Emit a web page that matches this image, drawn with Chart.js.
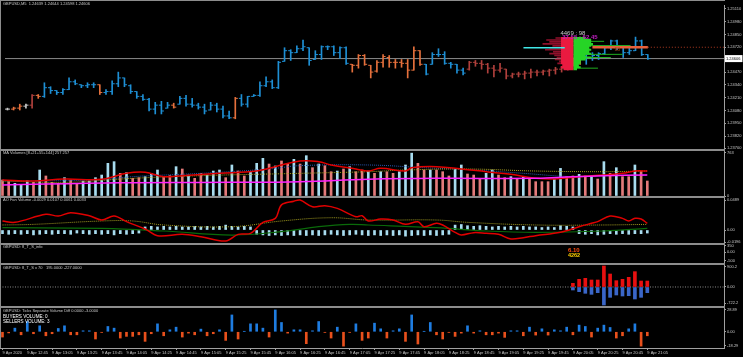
<!DOCTYPE html>
<html><head><meta charset="utf-8">
<script src="https://cdn.jsdelivr.net/npm/chart.js@4.4.1/dist/chart.umd.min.js"></script>
<style>
html,body{margin:0;padding:0;background:#000;overflow:hidden;}
#wrap{position:relative;width:743px;height:357px;background:#000;}
canvas{position:absolute;left:0;}
.sep{position:absolute;left:0;width:725px;background:#8c8c8c;}
</style></head><body><div id="wrap">
<canvas id="c1" width="743" height="153" style="top:0px"></canvas>
<canvas id="c2" width="743" height="50" style="top:149px"></canvas>
<canvas id="c3" width="743" height="49" style="top:196px"></canvas>
<canvas id="c4" width="743" height="22" style="top:243px"></canvas>
<canvas id="c5" width="743" height="45" style="top:263px"></canvas>
<canvas id="c6" width="743" height="51" style="top:306px"></canvas>
<div class="sep" style="top:0;height:1px"></div>
<div class="sep" style="top:149px;height:2px"></div>
<div class="sep" style="top:196px;height:2px"></div>
<div class="sep" style="top:243px;height:2px"></div>
<div class="sep" style="top:263px;height:2px"></div>
<div class="sep" style="top:306px;height:2px"></div>
<div class="sep" style="top:0;left:0;width:1px;height:348px"></div>
</div>
<script>
// ---------------- DATA ----------------
const timeLabels = ["9 Apr 2020","9 Apr 12:45","9 Apr 13:05","9 Apr 13:25","9 Apr 13:45","9 Apr 14:05","9 Apr 14:25","9 Apr 14:45","9 Apr 15:05","9 Apr 15:25","9 Apr 15:45","9 Apr 16:05","9 Apr 16:25","9 Apr 16:45","9 Apr 17:05","9 Apr 17:25","9 Apr 17:45","9 Apr 18:05","9 Apr 18:25","9 Apr 18:45","9 Apr 19:05","9 Apr 19:25","9 Apr 19:45","9 Apr 20:05","9 Apr 20:25","9 Apr 20:45","9 Apr 21:05"];

const open = [1.24094,1.24094,1.24104,1.24124,1.24134,1.24233,1.24223,1.24311,1.24282,1.24262,
1.24292,1.24371,1.24341,1.24331,1.24341,1.24341,1.24262,1.24272,1.24351,1.24410,
1.24331,1.24272,1.24223,1.24193,1.24094,1.24134,1.24104,1.24134,1.24144,1.24203,
1.24144,1.24134,1.24114,1.24085,1.24134,1.24094,1.24025,1.24006,1.24203,1.24144,
1.24223,1.24233,1.24331,1.24371,1.24311,1.24578,1.24686,1.24666,1.24706,1.24716,
1.24597,1.24647,1.24726,1.24726,1.24666,1.24716,1.24548,1.24538,1.24637,1.24538,
1.24479,1.24568,1.24617,1.24568,1.24568,1.24558,1.24489,1.24686,1.24548,1.24548,
1.24647,1.24647,1.24558,1.24548,1.24489,1.24499,1.24568,1.24558,1.24548,1.24509,
1.24489,1.24499,1.24430,1.24449,1.24449,1.24459,1.24469,1.24469,1.24479,1.24489,
1.24499,1.24509,1.24558,1.24587,1.24627,1.24647,1.24637,1.24656,1.24716,1.24785,
1.24726,1.24666,1.24686,1.24785,1.24647];
const high = [1.24104,1.24114,1.24144,1.24144,1.24242,1.24242,1.24361,1.24321,1.24282,1.24302,
1.24410,1.24390,1.24341,1.24361,1.24361,1.24341,1.24292,1.24380,1.24469,1.24410,
1.24341,1.24272,1.24242,1.24203,1.24163,1.24173,1.24163,1.24154,1.24223,1.24233,
1.24203,1.24154,1.24144,1.24163,1.24154,1.24124,1.24075,1.24213,1.24242,1.24223,
1.24242,1.24371,1.24420,1.24390,1.24578,1.24716,1.24696,1.24735,1.24794,1.24716,
1.24686,1.24735,1.24735,1.24735,1.24726,1.24726,1.24548,1.24647,1.24647,1.24538,
1.24587,1.24647,1.24637,1.24597,1.24597,1.24597,1.24726,1.24686,1.24548,1.24666,
1.24706,1.24676,1.24568,1.24548,1.24509,1.24578,1.24587,1.24587,1.24558,1.24538,
1.24558,1.24499,1.24459,1.24469,1.24479,1.24499,1.24489,1.24489,1.24499,1.24518,
1.24528,1.24578,1.24607,1.24647,1.24676,1.24666,1.24666,1.24735,1.24794,1.24794,
1.24735,1.24716,1.24824,1.24794,1.24647];
const low = [1.24085,1.24085,1.24085,1.24104,1.24104,1.24203,1.24213,1.24252,1.24242,1.24242,
1.24292,1.24341,1.24311,1.24311,1.24311,1.24242,1.24242,1.24242,1.24321,1.24321,
1.24252,1.24203,1.24183,1.24075,1.24045,1.24045,1.24104,1.24104,1.24144,1.24124,
1.24114,1.24094,1.24045,1.24085,1.24065,1.24006,1.23996,1.23996,1.24124,1.24114,
1.24223,1.24223,1.24321,1.24302,1.24302,1.24578,1.24587,1.24666,1.24686,1.24538,
1.24597,1.24597,1.24696,1.24637,1.24607,1.24548,1.24469,1.24509,1.24538,1.24410,
1.24469,1.24518,1.24518,1.24509,1.24518,1.24410,1.24489,1.24538,1.24440,1.24548,
1.24627,1.24548,1.24509,1.24459,1.24440,1.24489,1.24528,1.24499,1.24459,1.24420,
1.24469,1.24400,1.24410,1.24420,1.24400,1.24410,1.24430,1.24440,1.24430,1.24449,
1.24469,1.24489,1.24528,1.24548,1.24548,1.24587,1.24597,1.24647,1.24696,1.24696,
1.24617,1.24647,1.24686,1.24637,1.24597];
const close = [1.24094,1.24104,1.24124,1.24134,1.24233,1.24223,1.24311,1.24282,1.24262,1.24292,
1.24371,1.24351,1.24331,1.24341,1.24341,1.24262,1.24272,1.24351,1.24410,1.24341,
1.24272,1.24223,1.24193,1.24094,1.24134,1.24075,1.24134,1.24114,1.24203,1.24144,
1.24134,1.24114,1.24075,1.24134,1.24094,1.24025,1.24006,1.24203,1.24144,1.24223,
1.24233,1.24331,1.24371,1.24311,1.24568,1.24686,1.24666,1.24706,1.24726,1.24587,
1.24647,1.24726,1.24726,1.24666,1.24716,1.24558,1.24538,1.24637,1.24548,1.24469,
1.24568,1.24627,1.24568,1.24568,1.24558,1.24489,1.24686,1.24548,1.24449,1.24647,
1.24647,1.24558,1.24548,1.24489,1.24459,1.24568,1.24558,1.24548,1.24509,1.24489,
1.24509,1.24430,1.24449,1.24449,1.24459,1.24469,1.24469,1.24479,1.24489,1.24499,
1.24509,1.24558,1.24587,1.24627,1.24647,1.24637,1.24656,1.24716,1.24785,1.24726,
1.24666,1.24686,1.24785,1.24647,1.24606];
// bar colouring state of the chart (0 neutral, 1 blue, 2 orange, 3 dark red)
const barTrend = [0,2,2,0,3,2, 1,1,1,1,1,1,1,1,1, 2, 1,1,1,1,1,1,1,1,1,1,1, 2, 1,1,1,1,1,1,1,1,1, 2,
 1,1,1,1,1,1,1,1,1,1,1,1,1,1,1,1,1,1, 2,2,2,2,2,2,2,2,2,2,2,2, 1,1,1,1,1,1,1,
 3,3,3,3,3,3,3,3,3,3,3,3,3,3,3,3,3, 2,2, 1,1,1,1,1,1,1,1,1,1,1];

// volume profile (price levels, left end of sell rows, right end of buy rows, in bar units)
const profilePrices = [1.24814,1.24794,1.24775,1.24755,1.24735,1.24716,1.24696,1.24676,1.24656,1.24637,1.24617,1.24597,1.24578,1.24558,1.24538,1.24518,1.24499];
const profileSellFrom = [89.0,87.5,88.0,86.9,88.5,88.0,87.3,88.6,88.0,88.8,89.2,88.9,89.6,89.3,90.1,89.8,90.3];
const profileBuyTo = [93.9,94.8,94.8,95.1,94.8,94.5,94.8,94.5,94.8,93.9,94.8,93.9,93.1,93.1,92.8,93.1,92.5];
const profileExtPrices = [1.24781,1.24738,1.24649,1.24617,1.24509];
const profileExtTo = [96.9,101.2,99.9,98.0,95.9];
const profileCyan = {from:83.8, to:90.5, price:1.24716};
const pocLine = {from:95.0, to:104.0, price:1.24721};
const profileTotals = "4469 : 98", profilePct = "37.55 : 62.45";

// MA volumes pane
const volume = [284,254,225,207,272,242,461,355,242,225,325,284,225,266,266,325,372,579,609,402,414,313,325,343,402,461,343,361,520,479,372,313,402,372,443,461,325,550,443,355,431,579,668,567,532,621,579,650,567,715,502,567,538,431,443,479,520,431,461,443,
402,431,431,402,431,550,760,579,461,461,461,431,355,479,550,390,372,313,402,461,372,325,343,301,343,313,254,254,254,296,490,343,355,384,355,343,301,609,402,502,343,343,550,443,266];
const volSide = [-1,-1,1,1,1,-1,1,-1,-1,-1,1,-1,-1,1,1,1,1,1,1,-1,1,-1,-1,1,1,1,-1,-1,1,-1,1,-1,-1,1,1,1,-1,1,-1,-1,1,1,1,-1,1,-1,-1,1,-1,1,-1,1,-1,-1,1,-1,1,-1,-1,1,
-1,1,-1,-1,1,1,1,-1,-1,1,-1,-1,-1,1,1,-1,-1,-1,1,1,-1,-1,1,-1,1,-1,-1,-1,-1,1,1,-1,-1,1,-1,1,-1,1,-1,1,-1,-1,1,-1,-1];
const maRedIdx = [0,5,10,16,20,23,26,29,35,41,44,48,51,53,57,59,61,65,66,70,74,78,82,86,89,93,97,100,102,104];
const maRedVal = [284,266,301,296,402,420,343,361,402,443,520,621,609,550,479,443,491,443,502,520,479,431,384,313,301,343,372,402,443,443];
const maMagIdx = [0,19,37,48,59,70,86,92,97,104];
const maMagVal = [195,236,242,254,296,313,313,343,360,372];
const maYelIdx = [0,10,21,32,48,59,65,75,86,97,104];
const maYelVal = [266,242,313,361,402,431,461,479,443,431,443];
const maBluIdx = [0,15,21,32,43,48,59,68,76,84,92,97,104];
const maBluVal = [266,284,343,402,479,538,550,502,461,402,343,361,372];

// AO Fan Volume pane
const aoHist = [-0.006,-0.007,-0.006,-0.007,-0.006,-0.008,-0.007,-0.006,-0.007,-0.006,-0.006,-0.007,-0.005,-0.006,-0.007,-0.006,-0.007,-0.006,-0.008,-0.006,-0.007,-0.006,-0.005,
0.005,0.006,0.005,0.006,0.005,0.006,0.005,0.005,0.006,0.005,0.006,0.005,0.006,0.008,0.006,0.005,0.006,0.005,
-0.007,-0.008,-0.009,-0.008,-0.009,-0.008,-0.009,-0.008,-0.009,-0.008,-0.009,-0.008,-0.007,-0.008,-0.009,-0.008,-0.007,-0.008,-0.009,
-0.008,-0.009,-0.008,-0.009,-0.008,-0.010,-0.009,-0.008,-0.009,-0.008,-0.009,-0.008,-0.007,
0.008,0.009,0.007,0.006,0.007,0.006,0.005,0.006,0.005,0.006,0.005,0.006,0.005,0.005,
0.004,0.005,0.004,0.007,0.006,0.005,
-0.006,-0.007,-0.006,-0.008,-0.007,-0.006,-0.007,-0.006,-0.007,-0.006,-0.006,-0.005];
const aoRedIdx = [0,2,7,9,11,14,16,18,20,23,25,29,32,36,38,40,42,44,45,47,48,50,52,54,57,58,59,61,63,65,67,68,70,71,73,74,76,78,80,82,84,86,90,93,95,96,98,100,101,102,103,104];
const aoRedVal = [0.0147,0.0125,0.0256,0.0228,0.0282,0.0233,0.0163,0.0228,0.0136,0.0016,-0.0092,-0.0071,-0.0109,-0.0179,-0.0071,-0.0054,0.0125,0.019,0.041,0.047,0.0489,0.038,0.0397,0.0353,0.0217,0.0233,0.0147,0.0179,0.0163,0.0092,0.0136,0.0054,0.0109,0.0082,-0.0038,-0.0082,-0.0043,-0.0054,-0.0071,-0.0147,-0.0125,-0.0092,-0.0038,0.0054,0.0109,0.0136,0.0228,0.019,0.0147,0.019,0.0179,0.0109];
const aoYelIdx = [0,5,16,21,26,37,45,53,59,70,75,86,97,104];
const aoYelVal = [0.0082,0.0092,0.0147,0.0147,0.0082,0.0054,0.0147,0.02,0.0163,0.0163,0.0125,0.0082,0.0082,0.0092];
const aoGrnIdx = [0,16,26,37,45,51,56,59,70,78,86,97,104];
const aoGrnVal = [0.0038,0.0027,-0.0016,-0.0082,-0.0027,0.0054,0.0092,0.0082,0.0038,-0.0016,-0.0038,-0.0016,0.0027];

// 8_T_S info pane
const infoValue = "6.10", infoCount = "4262", infoBar = 91.2;

// 8_T_S x 70 pane (bars 92..104)
const tsStart = 92;
const tsUp = [163,340,385,311,311,932,577,281,340,429,681,266,266];
const tsDown = [-133,-207,-281,-326,-252,-799,-459,-355,-400,-385,-533,-459,-252];

// Ticks separate volume diff
const tickDiff = [-7,-1.5,4.8,-4,13.6,-2.6,7.9,-5.3,-2.6,4.4,7.9,-4,-4,1.3,1.3,-9.6,-0.9,7,4.8,-8.3,-6.1,-6.1,-4,-12.7,-2.6,10.5,-5.3,2.6,6.1,-7,-1.8,-4,3.5,-5.3,-2.6,2.6,-11.4,22.3,-9.6,0.4,10.5,10.5,4.8,-7,28.9,12.3,-1.8,2.6,2.6,-15.8,1.3,13.6,-0.9,-8.3,6.1,-19,-0.9,10.5,-11.4,-8.3,
11.4,3.9,-8.3,1.3,3.9,-12.7,22.3,-16.2,0.4,12.3,-4,-9.6,-0.9,-6.1,-1.8,7.9,-1.8,1.3,-4,-4,-1.8,-7.4,1.3,1.3,-5.3,6.1,-4.4,3.9,-4.4,2.6,1.3,6.1,-4,8.8,7,-7,4.8,8.8,5.7,-8.3,-5.3,3.9,10.5,-19,-5.3];

// axis tick values / labels
const p1Ticks = [1.25110,1.24980,1.24850,1.24720,1.24470,1.24340,1.24210,1.24080,1.23950,1.23820,1.23700];
const p1Labels = ["1.25110","1.24980","1.24850","1.24720","1.24470","1.24340","1.24210","1.24080","1.23950","1.23820","1.23700"];
const p2Ticks = [763,0], p2Labels = ["763","0"];
const p3Ticks = [0.0489,0,-0.0196], p3Labels = ["0.0489","0.00","-0.0196"];
const p4Ticks = [350,0,-500], p4Labels = ["350","0.00","-500"];
const p5Ticks = [900.2,0,-722.2], p5Labels = ["900.2","0.00","-722.2"];
const p6Ticks = [28.89,0,-18.29], p6Labels = ["28.89","0.00","-18.29"];

// ---------------- RENDER ----------------
Chart.defaults.font.family = "'Liberation Sans', Arial, sans-serif";
Chart.defaults.animation = false;
Chart.defaults.events = [];
Chart.defaults.plugins.legend.display = false;
Chart.defaults.plugins.tooltip.enabled = false;

const X_MIN = -0.4, X_MAX = 116.37;
const AX = '#a0a0a0', TXT = '#c8c8c8';
const idx = close.map((_, i) => i);

const textPlugin = {
  id: 'paneText',
  afterDraw(chart, args, opts) {
    const ctx = chart.ctx;
    (opts.items || []).forEach(it => {
      let x = it.x, y = it.y;
      if (it.dx !== undefined) x = chart.scales.x.getPixelForValue(it.dx);
      if (it.dy !== undefined) y = chart.scales.y.getPixelForValue(it.dy);
      ctx.save();
      ctx.font = it.font || "4px 'Liberation Sans', Arial, sans-serif";
      ctx.textBaseline = 'middle';
      ctx.textAlign = 'left';
      if (it.box) {
        const w = ctx.measureText(it.text).width;
        ctx.fillStyle = it.box;
        ctx.fillRect(x - 1, y - 3.5, w + 3, 7);
      }
      ctx.fillStyle = it.color || TXT;
      ctx.fillText(it.text, x, y);
      ctx.restore();
    });
  }
};
Chart.register(textPlugin);

function yAxis(min, max, vals, labels) {
  return {
    position: 'right', min, max,
    afterFit(s) { s.width = 19; s.paddingTop = 0; s.paddingBottom = 0; },
    afterBuildTicks(s) { s.ticks = vals.map(v => ({ value: v })); },
    ticks: { autoSkip: false, font: { size: 4 }, color: TXT, padding: 1, callback: (v, i) => labels[i] },
    grid: { drawOnChartArea: false, drawTicks: true, tickLength: 2, color: AX },
    border: { display: true, color: AX, width: 1 }
  };
}
function xAxis(show) {
  return {
    type: 'linear', min: X_MIN, max: X_MAX, display: show, offset: false,
    afterFit(s) { s.height = show ? 9 : 0; s.paddingLeft = 0; s.paddingRight = 0; },
    afterBuildTicks(s) { s.ticks = timeLabels.map((_, k) => ({ value: k * 4 })); },
    ticks: { autoSkip: false, maxRotation: 0, minRotation: 0, align: 'start', font: { size: 4 }, color: TXT, padding: 0, callback: (v, i) => timeLabels[i] },
    grid: { drawOnChartArea: false, drawTicks: true, tickLength: 2, color: AX, offset: false },
    border: { display: true, color: AX, width: 1 }
  };
}
function segs(rows) {
  const out = [];
  rows.forEach(([a, b, p]) => { if (b > a) out.push({ x: a, y: p }, { x: b, y: p }, { x: b, y: null }); });
  return out;
}
function knots(ix, vals) { return ix.map((x, k) => ({ x, y: vals[k] })); }
function line(data, color, width, extra) {
  return Object.assign({ type: 'line', data, borderColor: color, borderWidth: width, pointRadius: 0, fill: false, tension: 0, spanGaps: false }, extra || {});
}
const titleFont = "4px 'Liberation Sans', Arial, sans-serif";

// ---- Pane 1: price ----
const trendColor = ['#c8c8c8', '#1e8fd4', '#e5703c', '#b0403c'];
const lastClose = close[close.length - 1];
const CORE_FROM = 89.9, PIVOT = 91.9;
new Chart(document.getElementById('c1'), {
  type: 'bar',
  data: { datasets: [
    line(segs(profilePrices.map((p, k) => [Math.max(CORE_FROM, profileSellFrom[k]), PIVOT, p])), '#ea1a40', 2, { order: 1 }),
    line(segs(profilePrices.map((p, k) => [profileSellFrom[k], CORE_FROM, p])), 'rgba(190,22,58,0.75)', 1.6, { order: 1 }),
    line(segs(profilePrices.map((p, k) => [PIVOT, profileBuyTo[k], p])), '#26d426', 2, { order: 1 }),
    line(segs(profileExtPrices.map((p, k) => [PIVOT, profileExtTo[k], p])), '#1fae1f', 1, { order: 1 }),
    line(segs([[profileCyan.from, profileCyan.to, profileCyan.price]]), '#40e8e8', 1.5, { order: 0 }),
    line(segs([[pocLine.from, pocLine.to, pocLine.price]]), '#e8603a', 2.5, { order: 0 }),
    line(segs([[pocLine.to, X_MAX, pocLine.price]]), '#b03a20', 1, { order: 0, borderDash: [1, 2] }),
    { type: 'line', data: idx.map(i => ({ x: i - 0.22, y: open[i] })), showLine: false, pointStyle: 'line', pointRadius: 1.2, pointBorderWidth: 1,
      pointBorderColor: c => trendColor[barTrend[c.dataIndex]], order: 4 },
    { type: 'line', data: idx.map(i => ({ x: i + 0.22, y: close[i] })), showLine: false, pointStyle: 'line', pointRadius: 1.2, pointBorderWidth: 1,
      pointBorderColor: c => trendColor[barTrend[c.dataIndex]], order: 4 },
    { type: 'bar', data: idx.map(i => ({ x: i, y: [low[i], high[i]] })), barThickness: 1, grouped: false, borderWidth: 0,
      backgroundColor: c => trendColor[barTrend[c.dataIndex]], order: 5 },
    line([{ x: X_MIN, y: lastClose }, { x: X_MAX, y: lastClose }], '#8a8a8a', 1, { order: 9 })
  ]},
  options: {
    responsive: false, maintainAspectRatio: false,
    layout: { padding: { top: 1, bottom: 5, left: 0, right: 0 } },
    scales: { x: xAxis(false), y: yAxis(1.23700, 1.25149, p1Ticks, p1Labels) },
    plugins: { paneText: { items: [
      { text: 'GBPUSD,M5  1.24639 1.24644 1.24598 1.24606', x: 3, y: 4, font: titleFont, color: TXT },
      { text: profileTotals, dx: 89.8, dy: 1.24864, font: "6px 'Liberation Sans', Arial, sans-serif", color: '#c8c8c8' },
      { text: profilePct, dx: 90.1, dy: 1.24824, font: "bold 6px 'Liberation Sans', Arial, sans-serif", color: '#c020c0' },
      { text: '98', dx: 98.6, dy: 1.24696, font: "5px 'Liberation Sans', Arial, sans-serif", color: '#a04a20' },
      { text: lastClose.toFixed(5), x: 726, dy: lastClose, font: "4px 'Liberation Sans', Arial, sans-serif", color: '#000', box: '#ffffff' }
    ] } }
  }
});

// ---- Pane 2: MA Volumes ----
new Chart(document.getElementById('c2'), {
  type: 'bar',
  data: { datasets: [
    line(knots(maYelIdx, maYelVal), '#a8a020', 1, { borderDash: [1, 1], tension: 0.4, order: 1 }),
    line(knots(maBluIdx, maBluVal), '#2858b0', 1, { borderDash: [1, 1], tension: 0.4, order: 1 }),
    line(knots(maMagIdx, maMagVal), '#ff20ff', 1.5, { tension: 0.4, order: 0 }),
    line(knots(maRedIdx, maRedVal), '#e00000', 1.5, { tension: 0.4, order: 0 }),
    { type: 'bar', data: idx.map(i => ({ x: i, y: volume[i] })), barThickness: 2, borderWidth: 0, grouped: false,
      backgroundColor: c => volSide[c.dataIndex] > 0 ? '#a8dcef' : '#e47a7a', order: 5 }
  ]},
  options: {
    responsive: false, maintainAspectRatio: false,
    layout: { padding: { top: 2, bottom: 3, left: 0, right: 0 } },
    scales: { x: xAxis(false), y: yAxis(0, 798, p2Ticks, p2Labels) },
    plugins: { paneText: { items: [ { text: 'MA Volumes [8+21+55+144] 257 257', x: 3, y: 4, font: titleFont, color: TXT } ] } }
  }
});

// ---- Pane 3: AO Fan Volume ----
new Chart(document.getElementById('c3'), {
  type: 'bar',
  data: { datasets: [
    line(knots(aoGrnIdx, aoGrnVal), '#0a6a0a', 1.2, { tension: 0.4, order: 2 }),
    line(knots(aoYelIdx, aoYelVal), '#a09a20', 1, { borderDash: [1, 1], tension: 0.4, order: 1 }),
    line(knots(aoRedIdx, aoRedVal), '#e00000', 1.5, { tension: 0.35, order: 0 }),
    { type: 'bar', data: idx.map(i => ({ x: i, y: aoHist[i] })), barThickness: 2, borderWidth: 0, grouped: false,
      backgroundColor: '#a8dcef', order: 5 }
  ]},
  options: {
    responsive: false, maintainAspectRatio: false,
    layout: { padding: { top: 2, bottom: 2, left: 0, right: 0 } },
    scales: { x: xAxis(false), y: yAxis(-0.0212, 0.0522, p3Ticks, p3Labels) },
    plugins: { paneText: { items: [ { text: 'AO Fan Volume -0.0029 0.0107 0.0061 0.0033', x: 3, y: 4, font: titleFont, color: TXT } ] } }
  }
});

// ---- Pane 4: 8_T_S info ----
new Chart(document.getElementById('c4'), {
  type: 'bar',
  data: { datasets: [ { type: 'line', data: [], pointRadius: 0 } ] },
  options: {
    responsive: false, maintainAspectRatio: false,
    layout: { padding: { top: 2, bottom: 2, left: 0, right: 0 } },
    scales: { x: xAxis(false), y: yAxis(-623, 397, p4Ticks, p4Labels) },
    plugins: { paneText: { items: [
      { text: 'GBPUSD: 8_T_S_info', x: 3, y: 4, font: titleFont, color: TXT },
      { text: infoValue, dx: infoBar, dy: 110, font: "bold 6px 'Liberation Sans', Arial, sans-serif", color: '#ff4a10' },
      { text: infoCount, dx: infoBar, dy: -200, font: "bold 5.5px 'Liberation Sans', Arial, sans-serif", color: '#ffd000' }
    ] } }
  }
});

// ---- Pane 5: 8_T_S x 70 ----
new Chart(document.getElementById('c5'), {
  type: 'bar',
  data: { datasets: [
    line([{ x: X_MIN, y: 0 }, { x: X_MAX, y: 0 }], '#8a8a8a', 1, { borderDash: [1, 1.5], order: 9 }),
    { type: 'bar', data: tsUp.map((v, k) => ({ x: tsStart + k, y: v })), barThickness: 3, borderWidth: 0, grouped: false, backgroundColor: '#e81010', order: 2 },
    { type: 'bar', data: tsDown.map((v, k) => ({ x: tsStart + k, y: v })), barThickness: 3, borderWidth: 0, grouped: false, backgroundColor: '#3a66c8', order: 2 }
  ]},
  options: {
    responsive: false, maintainAspectRatio: false,
    layout: { padding: { top: 2, bottom: 2, left: 0, right: 0 } },
    scales: { x: xAxis(false), y: yAxis(-844, 977, p5Ticks, p5Labels) },
    plugins: { paneText: { items: [ { text: 'GBPUSD: 8_T_S x 70   195.0000 -227.0000', x: 3, y: 5, font: titleFont, color: TXT } ] } }
  }
});

// ---- Pane 6: Ticks Separate Volume ----
new Chart(document.getElementById('c6'), {
  type: 'bar',
  data: { datasets: [
    { type: 'bar', data: idx.map(i => ({ x: i, y: tickDiff[i] })), barThickness: 2, borderWidth: 0, grouped: false,
      backgroundColor: c => tickDiff[c.dataIndex] >= 0 ? '#1e7ce0' : '#e8501c' }
  ]},
  options: {
    responsive: false, maintainAspectRatio: false,
    layout: { padding: { top: 2, bottom: 0, left: 0, right: 0 } },
    scales: { x: xAxis(true), y: yAxis(-21.5, 31.5, p6Ticks, p6Labels) },
    plugins: { paneText: { items: [
      { text: 'GBPUSD: Ticks Separate Volume Diff 0.0000 -3.0000', x: 3, y: 5, font: titleFont, color: TXT },
      { text: 'BUYERS VOLUME: 0', x: 3, y: 10.7, font: "4.6px 'Liberation Sans', Arial, sans-serif", color: '#ffffff' },
      { text: 'SELLERS VOLUME: 3', x: 3, y: 15.7, font: "4.6px 'Liberation Sans', Arial, sans-serif", color: '#ffffff' }
    ] } }
  }
});
</script>
</body></html>
